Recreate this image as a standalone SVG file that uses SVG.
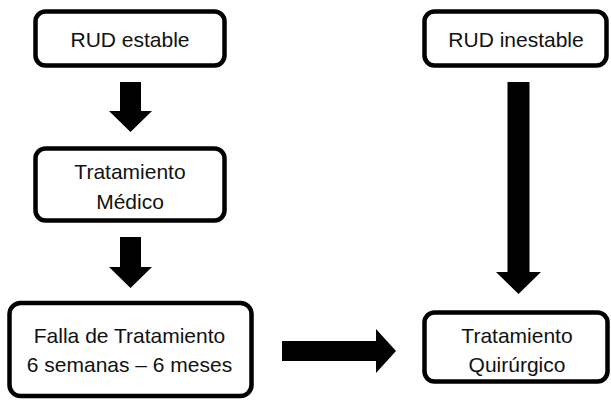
<svg xmlns="http://www.w3.org/2000/svg" width="611" height="401" viewBox="0 0 611 401">
<style>
.box{fill:#fff;stroke:#000;stroke-width:4.5}
.t{font-family:"Liberation Sans",Arial,sans-serif;font-size:21px;fill:#111;text-anchor:middle}
.arr{fill:#000}
</style>
<rect width="611" height="401" fill="#fff"/>
<g id="connectors">
<polygon class="arr" points="120,82 141,82 141,111 152,111 130.5,132 109,111 120,111"/>
<polygon class="arr" points="120,237 141,237 141,267 152,267 130.5,288 109,267 120,267"/>
<polygon class="arr" points="507.5,82 529.5,82 529.5,272 541,272 518.5,294 496,272 507.5,272"/>
<polygon class="arr" points="282,341 376,341 376,329 396,351 376,373 376,361 282,361"/>
</g>
<g id="rud-estable">
<rect class="box" x="35.5" y="11.5" width="189" height="54" rx="10"/>
<text class="t" x="130" y="46.5">RUD estable</text>
</g>
<g id="rud-inestable">
<rect class="box" x="424.5" y="11.5" width="182" height="54" rx="10"/>
<text class="t" x="516" y="46.5">RUD inestable</text>
</g>
<g id="tratamiento-medico">
<rect class="box" x="35.5" y="148.5" width="189" height="72" rx="10"/>
<text class="t" x="130" y="178.5">Tratamiento</text>
<text class="t" x="130" y="209">Médico</text>
</g>
<g id="falla">
<rect class="box" x="9.5" y="303" width="242" height="93" rx="11"/>
<text class="t" x="129.5" y="342.5">Falla de Tratamiento</text>
<text class="t" x="129.5" y="371.5">6 semanas – 6 meses</text>
</g>
<g id="tratamiento-quirurgico">
<rect class="box" x="424.5" y="312.5" width="183" height="69" rx="10"/>
<text class="t" x="517" y="343">Tratamiento</text>
<text class="t" x="517" y="372">Quirúrgico</text>
</g>
</svg>
